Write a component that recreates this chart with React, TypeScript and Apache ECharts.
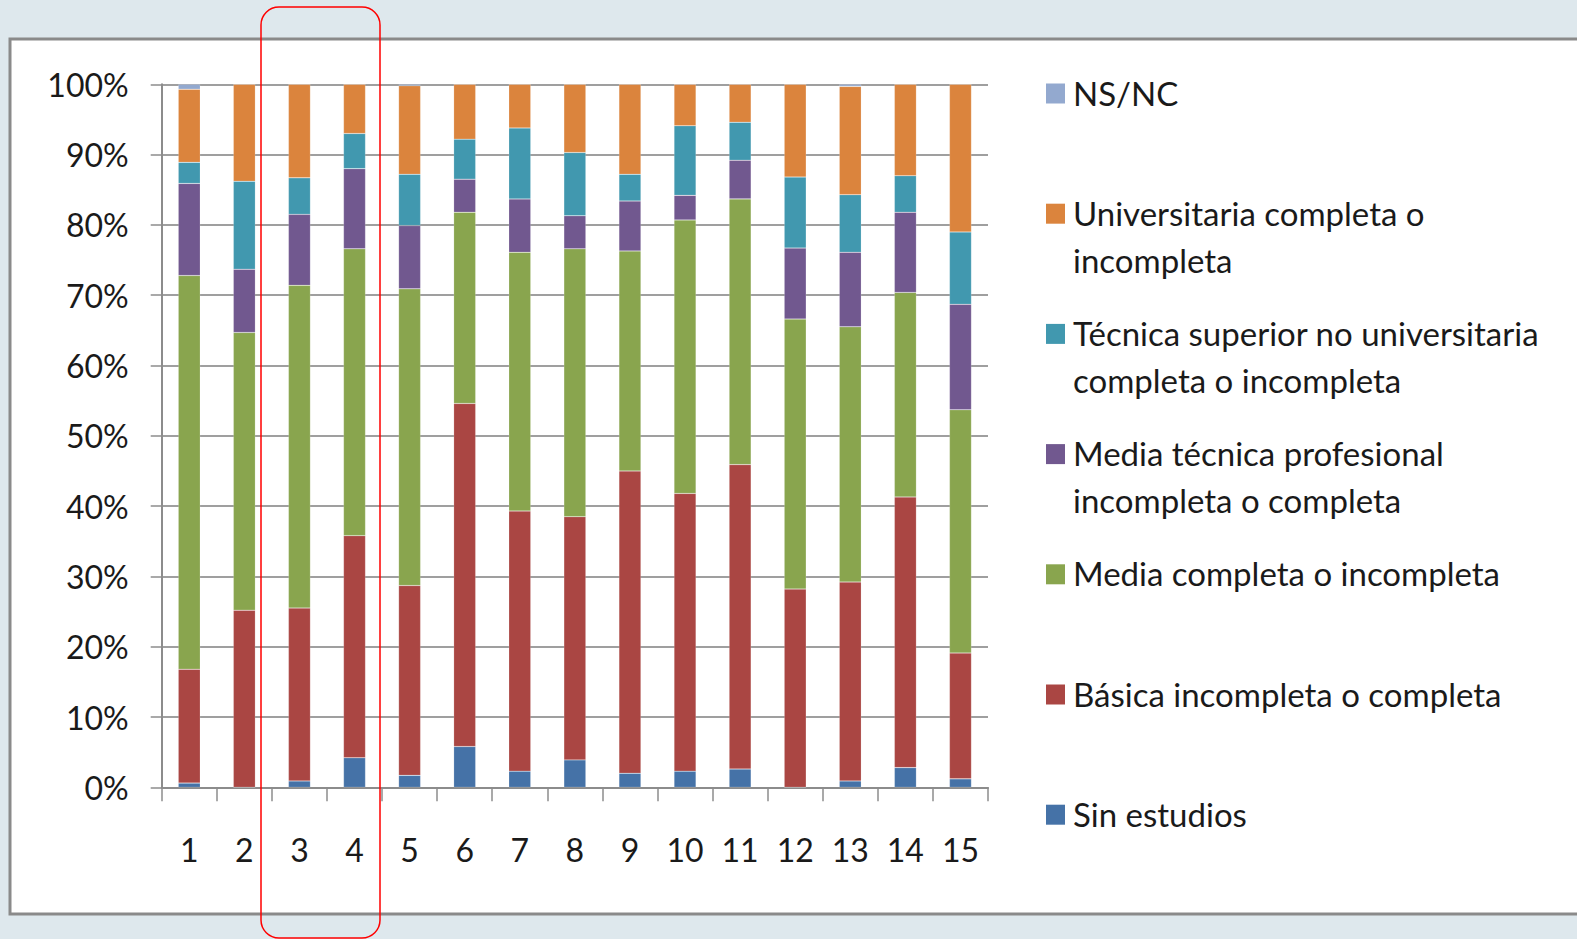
import React, { useEffect, useRef } from "react";
import * as echarts from "echarts";

const categories = ["1", "2", "3", "4", "5", "6", "7", "8", "9", "10", "11", "12", "13", "14", "15"];

const sinEstudios = [0.6, 0, 0.9, 4.2, 1.7, 5.8, 2.3, 3.9, 2.0, 2.3, 2.6, 0, 0.9, 2.8, 1.2];
const basica = [16.2, 25.2, 24.6, 31.6, 27.0, 48.8, 37.0, 34.6, 43.0, 39.5, 43.3, 28.2, 28.3, 38.5, 17.9];
const mediaCompleta = [56.0, 39.5, 45.9, 40.8, 42.2, 27.2, 36.8, 38.1, 31.3, 38.9, 37.8, 38.4, 36.3, 29.1, 34.6];
const mediaTecnica = [13.1, 9.0, 10.1, 11.4, 9.0, 4.7, 7.6, 4.7, 7.1, 3.5, 5.5, 10.1, 10.6, 11.4, 15.0];
const tecnicaSuperior = [3.0, 12.5, 5.2, 5.0, 7.3, 5.7, 10.1, 9.0, 3.8, 9.9, 5.4, 10.1, 8.2, 5.2, 10.3];
const universitaria = [10.4, 13.8, 13.3, 7.0, 12.6, 7.8, 6.2, 9.7, 12.8, 5.9, 5.4, 13.2, 15.4, 13.0, 21.0];
const nsnc = [0.7, 0, 0, 0, 0.2, 0, 0, 0, 0, 0, 0, 0, 0.3, 0, 0];

const seriesNames = [
  "Sin estudios",
  "Básica incompleta o completa",
  "Media completa o incompleta",
  "Media técnica profesional incompleta o completa",
  "Técnica superior no universitaria completa o incompleta",
  "Universitaria completa o incompleta",
  "NS/NC",
];
const legendLabels = [
  "Sin estudios",
  "Básica incompleta o completa",
  "Media completa o incompleta",
  "Media técnica profesional\nincompleta o completa",
  "Técnica superior no universitaria\ncompleta o incompleta",
  "Universitaria completa o\nincompleta",
  "NS/NC",
];
const seriesData = [sinEstudios, basica, mediaCompleta, mediaTecnica, tecnicaSuperior, universitaria, nsnc];
const colors = ["#4572A7", "#AA4643", "#89A54E", "#71588F", "#4198AF", "#DB843D", "#93A9CF"];

const FONT = "Lato, 'Open Sans', sans-serif";

export default function App() {
  const ref = useRef<HTMLDivElement>(null);
  useEffect(() => {
    if (!ref.current) return;
    const chart = echarts.init(ref.current, undefined, { renderer: "svg" });

    const legendGraphics: any[] = [];
    const n = seriesNames.length;
    for (let k = 0; k < n; k++) {
      const idx = n - 1 - k; // top to bottom: NS/NC first
      const cy = 92.5 + k * 120.2;
      legendGraphics.push({
        type: "rect",
        shape: { x: 1046, y: cy - 9, width: 19, height: 20 },
        style: { fill: colors[idx] },
        z: 10,
      });
      legendGraphics.push({
        type: "text",
        x: 1073,
        y: cy - 23.5,
        style: {
          text: legendLabels[idx],
          fontFamily: FONT,
          fontSize: 33,
          lineHeight: 47,
          fill: "#1a1a1a",
          verticalAlign: "top",
          align: "left",
        },
        z: 10,
      });
    }

    chart.setOption({
      animation: false,
      backgroundColor: "#DEE8ED",
      color: colors,
      graphic: [
        {
          type: "rect",
          z: -100,
          shape: { x: 10, y: 39, width: 1620, height: 875 },
          style: { fill: "#ffffff", stroke: "#8a8a8a", lineWidth: 3 },
        },
        ...legendGraphics,
        {
          type: "rect",
          z: 100,
          shape: { x: 261, y: 7, width: 119, height: 931, r: 18 },
          style: { fill: "transparent", stroke: "#ff0000", lineWidth: 1.5 },
        },
      ],
      grid: { left: 161.7, right: 589, top: 84.3, bottom: 151.7, containLabel: false },
      xAxis: {
        type: "category",
        data: categories,
        boundaryGap: true,
        axisLine: { lineStyle: { color: "#8c8c8c", width: 2 } },
        axisTick: { show: true, length: 14, lineStyle: { color: "#8c8c8c", width: 1.5 } },
        axisLabel: { color: "#1a1a1a", fontFamily: FONT, fontSize: 32, margin: 46, interval: 0 },
        splitLine: { show: false },
      },
      yAxis: {
        type: "value",
        min: 0,
        max: 100,
        interval: 10,
        axisLine: { show: true, lineStyle: { color: "#8c8c8c", width: 2 } },
        axisTick: { show: true, length: 11, lineStyle: { color: "#8c8c8c", width: 1.5 } },
        axisLabel: {
          color: "#1a1a1a",
          fontFamily: FONT,
          fontSize: 32,
          margin: 33,
          formatter: "{value}%",
        },
        splitLine: { show: true, lineStyle: { color: "#9f9f9f", width: 2 } },
      },
      series: seriesNames.map((name, i) => ({
        name,
        type: "bar",
        stack: "total",
        barWidth: 22,
        data: seriesData[i],
        itemStyle: { color: colors[i], borderColor: "rgba(255,255,255,0.35)", borderWidth: 0.5 },
      })),
    });
    return () => chart.dispose();
  }, []);
  return (
    <div
      ref={ref}
      style={{ position: "fixed", left: 0, top: 0, width: 1577, height: 939 }}
    />
  );
}
